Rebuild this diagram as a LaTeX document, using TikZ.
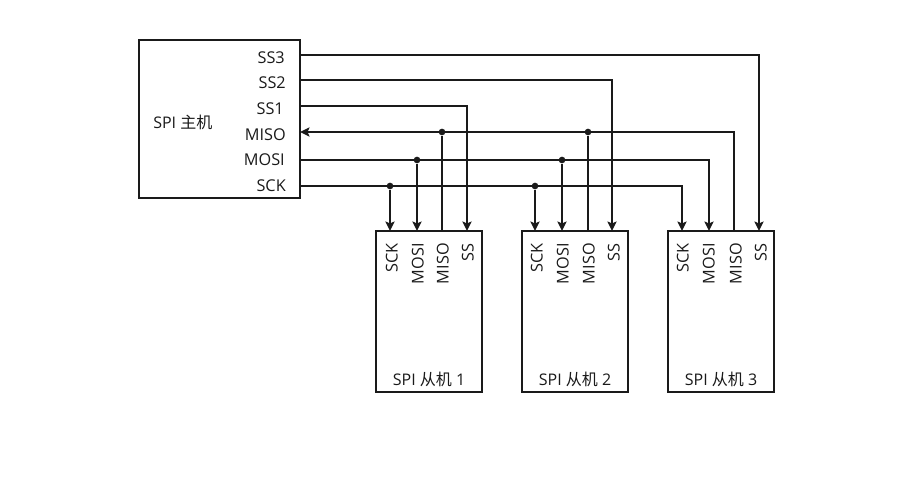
\documentclass[tikz,border=0pt]{standalone}
\usepackage{fontspec}
\usepackage{tikz}
\usetikzlibrary{arrows.meta,positioning,calc}
\setmainfont{Open Sans}
\newfontfamily\cjkfont{Noto Sans CJK SC}
\definecolor{ink}{HTML}{1A1A1A}
\tikzset{
  chip/.style={draw=ink, line width=1.2pt, inner sep=0pt},
  wire/.style={line width=1.15pt, draw=ink},
  arrow/.style={wire, -{Stealth[length=2.5mm,width=2.4mm,inset=0.5mm]}},
  junction/.style={circle, fill=ink, inner sep=0pt, minimum size=5pt},
  pinlabel/.style={font=\fontsize{12.2}{14}\selectfont, text=ink, inner sep=0pt, anchor=east},
  sidelabel/.style={pinlabel, rotate=90, text height=8.5pt, text depth=0pt},
  title/.style={font=\fontsize{12}{14}\selectfont, text=ink, inner sep=0pt}
}

\begin{document}
\begin{tikzpicture}[x=0.75pt,y=-0.75pt,>=Latex]
        \useasboundingbox[fill=white] (0,0) rectangle (916,478);

        % master
        \node[chip,minimum width=120.75pt,minimum height=118.5pt] (master) at (219.5,119) {};
        \node[title,anchor=west] (mtitle) at (153,122) {SPI {\cjkfont 主机}};
        \node[pinlabel] (lss3) at (285,58) {SS3};
        \node[pinlabel] (lss2) at (286,83) {SS2};
        \node[pinlabel] (lss1) at (284,109) {SS1};
        \node[pinlabel] (lmiso) at (286,135) {MISO};
        \node[pinlabel] (lmosi) at (285,160) {MOSI};
        \node[pinlabel] (lsck) at (286,186) {SCK};
        \coordinate (mss3) at (300,55);
        \coordinate (mss2) at (300,80);
        \coordinate (mss1) at (300,106);
        \coordinate (mmiso) at (300,132);
        \coordinate (mmosi) at (300,160);
        \coordinate (msck) at (300,186);

        % slaves
        \foreach \n/\cx/\a/\b/\c/\d/\la/\lb/\lc/\ld in {
            1/429/390/417/442/467/392/418/443/468,
            2/575/535/562/588/612/537/563/589/614,
            3/721/682/709/734/759/683/709/736/761} {
          \node[chip,minimum width=79.5pt,minimum height=120.75pt] (slave\n) at (\cx,311.5) {};
          \node[title] (stitle\n) at (\cx,379) {SPI {\cjkfont 从机} \n};
          \node[sidelabel] (lsck\n) at (\la,243) {SCK};
          \node[sidelabel] (lmosi\n) at (\lb,243) {MOSI};
          \node[sidelabel] (lmiso\n) at (\lc,243) {MISO};
          \node[sidelabel] (lss\n) at (\ld,243) {SS};
          \coordinate (psck\n) at (\a,231);
          \coordinate (pmosi\n) at (\b,231);
          \coordinate (pmiso\n) at (\c,231);
          \coordinate (pss\n) at (\d,231);
        }

        % bus lines
        \draw[arrow] (mss3) -| (pss3);
        \draw[arrow] (mss2) -| (pss2);
        \draw[arrow] (mss1) -| (pss1);
        \draw[arrow] (pmiso3) |- (mmiso);
        \draw[arrow] (mmosi) -| (pmosi3);
        \draw[arrow] (msck) -| (psck3);

        % tees
        \foreach \n in {1,2} {
          \node[junction] (jsck\n) at (msck -| psck\n) {};
          \node[junction] (jmosi\n) at (mmosi -| pmosi\n) {};
          \node[junction] (jmiso\n) at (mmiso -| pmiso\n) {};
          \draw[arrow] (jsck\n) -- (psck\n);
          \draw[arrow] (jmosi\n) -- (pmosi\n);
          \draw[wire] (pmiso\n) -- (jmiso\n);
        }
      \end{tikzpicture}
\end{document}
